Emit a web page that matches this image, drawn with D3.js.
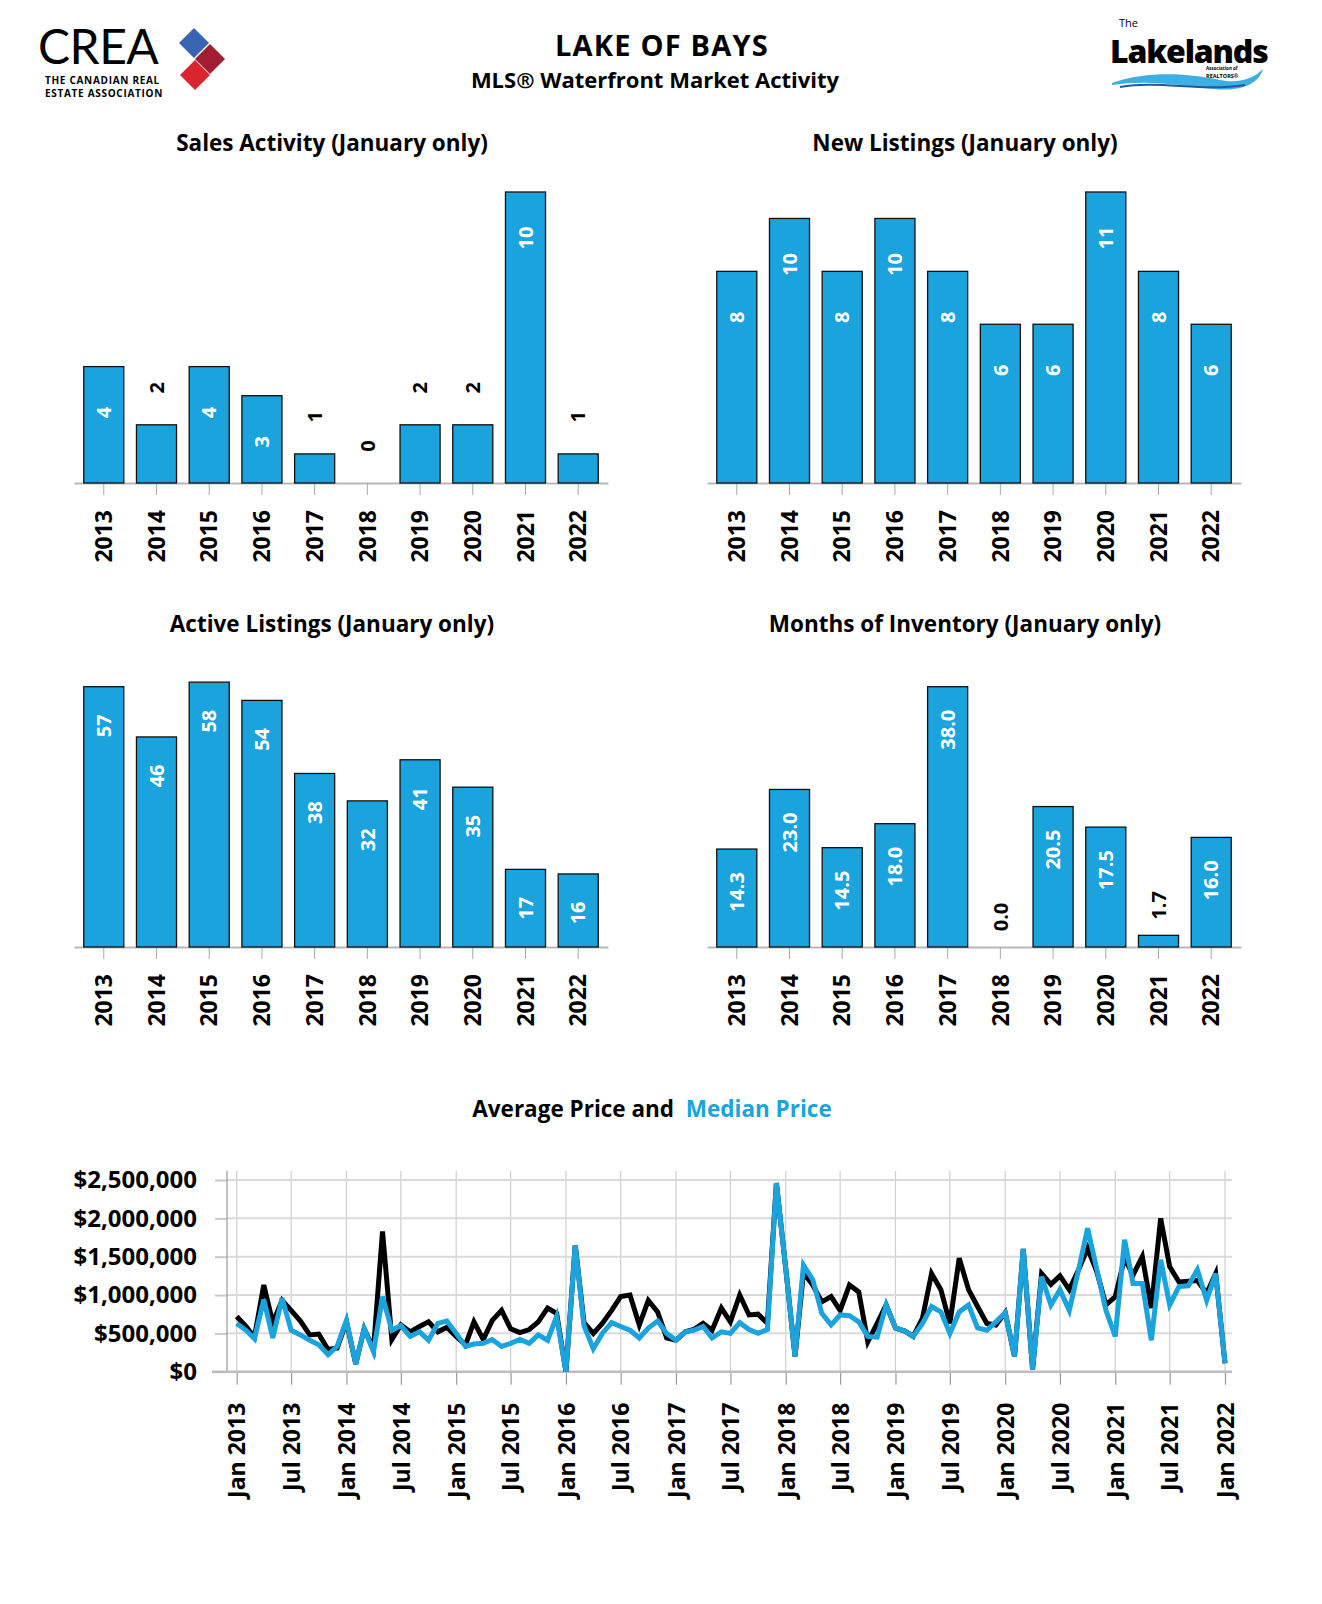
<!DOCTYPE html>
<html>
<head>
<meta charset="utf-8">
<script src="https://d3js.org/d3.v7.min.js"></script>
<style>
  body { margin: 0; background: #fff; }
  text { font-family: "Open Sans", "Noto Sans", sans-serif; font-weight: 700; fill: #000; }
</style>
</head>
<body>
<div id="root"></div>
<script>
// chart values
var years = ['2013', '2014', '2015', '2016', '2017', '2018', '2019', '2020', '2021', '2022'];
var salesActivity = [4, 2, 4, 3, 1, 0, 2, 2, 10, 1];
var newListings = [8, 10, 8, 10, 8, 6, 6, 11, 8, 6];
var activeListings = [57, 46, 58, 54, 38, 32, 41, 35, 17, 16];
var monthsInventory = [14.3, 23.0, 14.5, 18.0, 38.0, 0.0, 20.5, 17.5, 1.7, 16.0];

// monthly prices Jan 2013 .. Jan 2022, in thousands of dollars
var averagePrice = [720, 590, 450, 1130, 640, 930, 800, 660, 480, 490, 290, 310,
  650, 100, 560, 300, 1830, 420, 610, 520, 590, 650, 520, 580,
  460, 350, 650, 420, 670, 800, 560, 510, 550, 650, 830, 760,
  0, 1650, 640, 500, 630, 800, 980, 1000, 610, 930, 780, 440,
  410, 520, 550, 630, 540, 830, 650, 1000, 740, 750, 630, 2460,
  1350, 200, 1290, 1130, 910, 980, 800, 1130, 1040, 390, 630, 870,
  570, 530, 460, 700, 1280, 1070, 630, 1480, 1070, 850, 630, 610,
  770, 200, 1600, 30, 1280, 1140, 1250, 1070, 1330, 1610, 1300, 870,
  980, 1480, 1260, 1500, 830, 2000, 1370, 1170, 1180, 1190, 1020, 1280,
  110];
var medianPrice = [630, 540, 430, 940, 440, 960, 540, 480, 410, 350, 220, 330,
  670, 100, 560, 260, 980, 540, 600, 460, 520, 410, 630, 660,
  500, 330, 360, 370, 420, 330, 370, 420, 370, 480, 410, 720,
  0, 1650, 600, 300, 500, 640, 590, 540, 440, 570, 660, 500,
  410, 520, 540, 590, 440, 520, 500, 640, 550, 500, 550, 2460,
  1350, 200, 1390, 1200, 760, 610, 740, 730, 650, 460, 450, 870,
  570, 530, 460, 630, 850, 780, 500, 780, 870, 570, 540, 650,
  770, 200, 1600, 30, 1240, 870, 1070, 800, 1330, 1870, 1330, 800,
  460, 1720, 1150, 1150, 410, 1460, 870, 1110, 1120, 1330, 930, 1280,
  110];
var priceTicks = [0, 500000, 1000000, 1500000, 2000000, 2500000];

var W = 1322, H = 1604;
var blue = '#1aa3dc';

var svg = d3.select('#root').append('svg')
  .attr('width', W)
  .attr('height', H);

// ---------- header ----------
var crea = svg.append('g');
crea.append('text')
  .attr('x', 38).attr('y', 64)
  .style('font-family', 'Lato, sans-serif')
  .style('font-weight', 400)
  .style('font-size', '48px')
  .style('letter-spacing', '-0.5px')
  .text('CREA');
crea.append('text')
  .attr('x', 45).attr('y', 84)
  .style('font-size', '10px')
  .style('letter-spacing', '0.7px')
  .text('THE CANADIAN REAL');
crea.append('text')
  .attr('x', 45).attr('y', 97)
  .style('font-size', '10px')
  .style('letter-spacing', '0.7px')
  .text('ESTATE ASSOCIATION');
// the three diamonds
[[194, 43, '#3a63b3'], [210, 59, '#a11d2f'], [195, 75, '#d9252d']].forEach(function(d) {
  crea.append('rect')
    .attr('x', -10.6).attr('y', -10.6)
    .attr('width', 21.2).attr('height', 21.2)
    .attr('fill', d[2])
    .attr('transform', 'translate(' + d[0] + ',' + d[1] + ') rotate(45)');
});

svg.append('text')
  .attr('x', 662).attr('y', 56)
  .attr('text-anchor', 'middle')
  .style('font-size', '29px')
  .style('letter-spacing', '1.2px')
  .text('LAKE OF BAYS');
svg.append('text')
  .attr('x', 655).attr('y', 88)
  .attr('text-anchor', 'middle')
  .style('font-size', '22px')
  .text('MLS® Waterfront Market Activity');

// lakelands logo
var lake = svg.append('g');
lake.append('text')
  .attr('x', 1119).attr('y', 27)
  .style('font-weight', 400)
  .style('font-size', '11px')
  .text('The');
lake.append('text')
  .attr('x', 1110).attr('y', 63)
  .style('font-weight', 800)
  .style('font-size', '32px')
  .style('letter-spacing', '-1.2px')
  .text('Lakelands');
lake.append('text')
  .attr('x', 1206).attr('y', 70)
  .style('font-size', '4.5px')
  .text('Association of');
lake.append('text')
  .attr('x', 1206).attr('y', 77.5)
  .style('font-size', '5.5px')
  .text('REALTORS®');
lake.append('path')
  .attr('d', 'M1112,83 C1150,70 1190,74 1220,80 C1240,84 1254,78 1263,69 C1259,84 1240,92 1214,89 C1184,86 1150,79 1112,85 Z')
  .attr('fill', '#3eaee3');
lake.append('path')
  .attr('d', 'M1120,87 C1160,80 1200,92 1245,85')
  .attr('fill', 'none')
  .attr('stroke', '#1c5aa6')
  .attr('stroke-width', 2);

// ---------- bar charts ----------
function barChart(opt) {
  var x = d3.scaleBand()
    .domain(years)
    .range([opt.left, opt.left + 534])
    .paddingInner(0.24)
    .paddingOuter(0.185);
  var y = d3.scaleLinear()
    .domain([0, opt.max])
    .range([opt.base, opt.top]);
  var g = svg.append('g');

  g.append('text')
    .attr('x', opt.left + 258)
    .attr('y', opt.titleY)
    .attr('text-anchor', 'middle')
    .attr('dy', '0.36em')
    .style('font-size', '22.5px')
    .text(opt.title);

  var axisG = g.append('g')
    .attr('transform', 'translate(0,' + opt.base + ')')
    .call(d3.axisBottom(x).tickSize(12).tickSizeOuter(0));
  axisG.select('.domain').attr('stroke', '#b8b8b8').attr('stroke-width', 2);
  axisG.selectAll('.tick line').attr('stroke', '#a8a8a8');
  axisG.selectAll('.tick text')
    .attr('transform', 'rotate(-90)')
    .attr('x', -27)
    .attr('y', 0)
    .attr('dy', '0.36em')
    .attr('text-anchor', 'end')
    .style('font-size', '23px');

  g.selectAll('rect.bar')
    .data(opt.values).enter()
    .append('rect')
    .attr('class', 'bar')
    .attr('x', function(d, i) { return x(years[i]); })
    .attr('y', function(d) { return y(d); })
    .attr('width', x.bandwidth())
    .attr('height', function(d) { return opt.base - y(d); })
    .attr('fill', blue)
    .attr('stroke', '#111')
    .attr('stroke-width', 1.3);

  //value labels: inside the bar if it is tall enough, else above it
  g.selectAll('text.val')
    .data(opt.values).enter()
    .append('text')
    .attr('class', 'val')
    .attr('transform', function(d, i) {
      var cx = x(years[i]) + x.bandwidth() / 2;
      var cy = (opt.base - y(d)) > 60 ? y(d) + opt.inOff : y(d) - opt.outOff;
      return 'translate(' + cx + ',' + cy + ') rotate(-90)';
    })
    .attr('text-anchor', 'middle')
    .attr('dy', '0.36em')
    .style('font-size', '20px')
    .style('fill', function(d) { return (opt.base - y(d)) > 60 ? '#fff' : '#000'; })
    .text(opt.fmt);
}

var intFmt = function(d) { return d3.format('d')(d); };
var oneFmt = function(d) { return d.toFixed(1); };

barChart({ title: 'Sales Activity (January only)', values: salesActivity, max: 10, left: 74, top: 192, base: 483, titleY: 143, inOff: 46, outOff: 37, fmt: intFmt });
barChart({ title: 'New Listings (January only)', values: newListings, max: 11, left: 707, top: 192, base: 483, titleY: 143, inOff: 46, outOff: 37, fmt: intFmt });
barChart({ title: 'Active Listings (January only)', values: activeListings, max: 60, left: 74, top: 673, base: 947, titleY: 624, inOff: 39, outOff: 32, fmt: intFmt });
barChart({ title: 'Months of Inventory (January only)', values: monthsInventory, max: 40, left: 707, top: 673, base: 947, titleY: 624, inOff: 43, outOff: 30, fmt: oneFmt });

// ---------- price line chart ----------
var months = d3.timeMonth.range(new Date(2013, 0, 1), new Date(2022, 1, 1));
var lx = d3.scaleTime()
  .domain([months[0], months[months.length - 1]])
  .range([236.7, 1225]);
var ly = d3.scaleLinear()
  .domain([0, 2500000])
  .range([1371.7, 1180]);
var plotTop = 1171;

var title = svg.append('text')
  .attr('x', 652).attr('y', 1109)
  .attr('text-anchor', 'middle')
  .attr('dy', '0.36em')
  .style('font-size', '22.5px')
  .style('white-space', 'pre');
title.append('tspan').text('Average Price and  ');
title.append('tspan').style('fill', blue).text('Median Price');

var halfYears = d3.timeMonth.every(6).range(months[0], new Date(2022, 1, 1));

// vertical grid
svg.selectAll('line.vgrid')
  .data(halfYears).enter()
  .append('line')
  .attr('class', 'vgrid')
  .attr('x1', function(d) { return lx(d); })
  .attr('x2', function(d) { return lx(d); })
  .attr('y1', plotTop)
  .attr('y2', ly(0))
  .attr('stroke', '#cfcfcf')
  .attr('stroke-width', 1.2);

// horizontal grid
svg.selectAll('line.hgrid')
  .data(priceTicks.slice(1)).enter()
  .append('line')
  .attr('class', 'hgrid')
  .attr('x1', 227)
  .attr('x2', 1232)
  .attr('y1', function(d) { return ly(d); })
  .attr('y2', function(d) { return ly(d); })
  .attr('stroke', '#dadada')
  .attr('stroke-width', 2);

var yAxisG = svg.append('g')
  .attr('transform', 'translate(227,0)')
  .call(d3.axisLeft(ly)
    .tickValues(priceTicks)
    .tickSize(12)
    .tickPadding(18)
    .tickFormat(function(d) { return '$' + d3.format(',')(d); }));
yAxisG.select('.domain').remove();
yAxisG.selectAll('.tick line').attr('stroke', '#c8c8c8').attr('stroke-width', 2);
yAxisG.selectAll('.tick text').style('font-size', '24px');
svg.append('line')
  .attr('x1', 227).attr('x2', 227)
  .attr('y1', plotTop).attr('y2', ly(0))
  .attr('stroke', '#9a9a9a')
  .attr('stroke-width', 1.2);

var xAxisG = svg.append('g')
  .attr('transform', 'translate(0,' + ly(0) + ')')
  .call(d3.axisBottom(lx)
    .tickValues(halfYears)
    .tickSize(13)
    .tickFormat(d3.timeFormat('%b %Y')));
xAxisG.select('.domain').remove();
xAxisG.selectAll('.tick line').attr('stroke', '#9a9a9a').attr('stroke-width', 1.2);
xAxisG.selectAll('.tick text')
  .attr('transform', 'rotate(-90)')
  .attr('x', -31)
  .attr('y', 0)
  .attr('dy', '0.36em')
  .attr('text-anchor', 'end')
  .style('font-size', '23px');
svg.append('line')
  .attr('x1', 212).attr('x2', 1232)
  .attr('y1', ly(0)).attr('y2', ly(0))
  .attr('stroke', '#bdbdbd')
  .attr('stroke-width', 2.5);

var priceLine = d3.line()
  .x(function(d, i) { return lx(months[i]); })
  .y(function(d) { return ly(d * 1000); });

svg.append('path')
  .datum(averagePrice)
  .attr('d', priceLine)
  .attr('fill', 'none')
  .attr('stroke', '#000')
  .attr('stroke-width', 5)
  .attr('stroke-linejoin', 'miter');
svg.append('path')
  .datum(medianPrice)
  .attr('d', priceLine)
  .attr('fill', 'none')
  .attr('stroke', blue)
  .attr('stroke-width', 5)
  .attr('stroke-linejoin', 'miter');
</script>
</body>
</html>
